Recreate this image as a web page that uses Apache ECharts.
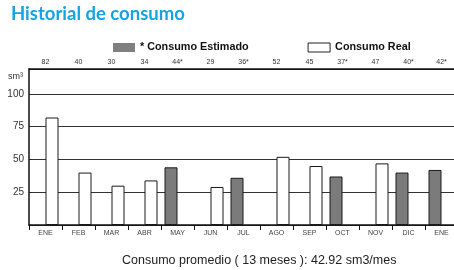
<!DOCTYPE html>
<html>
<head>
<meta charset="utf-8">
<script src="https://cdn.jsdelivr.net/npm/echarts@6/dist/echarts.min.js"></script>
<style>
  html, body { margin: 0; padding: 0; background: #fff; }
  #chart { width: 454px; height: 270px; }
</style>
</head>
<body>
<div id="chart"></div>
<script>
// months of the period, oldest first
const months = ['ENE', 'FEB', 'MAR', 'ABR', 'MAY', 'JUN', 'JUL', 'AGO', 'SEP', 'OCT', 'NOV', 'DIC', 'ENE']
// estimated readings (null = real reading that month)
const estimado = [null, null, null, null, 44, null, 36, null, null, 37, null, 40, 42]
const real = [82, 40, 30, 34, null, 29, null, 52, 45, null, 47, null, null]
const yTicks = [25, 50, 75, 100]

// label row on top: value, with * if estimated
const topLabels = months.map((m, i) => estimado[i] != null ? estimado[i] + '*' : String(real[i]))
const allValues = months.map((m, i) => estimado[i] != null ? estimado[i] : real[i])
const promedio = allValues.reduce((a, b) => a + b, 0) / allValues.length

const chart = echarts.init(document.getElementById('chart'))
chart.setOption({
  animation: false,
  backgroundColor: '#fff',
  textStyle: { fontFamily: 'Liberation Sans, Arial, sans-serif' },
  title: [{
    text: 'Historial de consumo',
    left: 6,
    top: 0,
    textStyle: {
      fontFamily: 'Lato',
      fontWeight: 'bold',
      fontSize: 18.5,
      color: '#14a3e4'
    }
  }, {
    text: 'Consumo promedio ( ' + allValues.length + ' meses ): ' + promedio.toFixed(2) + ' sm3/mes',
    left: 117,
    top: 249,
    textStyle: {
      fontFamily: 'Liberation Sans',
      fontWeight: 'normal',
      fontSize: 12.5,
      color: '#222'
    }
  }],
  legend: {
    left: 113,
    top: 42,
    padding: 0,
    itemWidth: 22,
    itemHeight: 9,
    itemGap: 59,
    textStyle: {
      fontFamily: 'Liberation Sans',
      fontWeight: 'bold',
      fontSize: 10.8,
      color: '#111'
    },
    data: [
      { name: '* Consumo Estimado', icon: 'rect', itemStyle: { color: '#808080', borderWidth: 0 } },
      { name: 'Consumo Real', icon: 'rect', itemStyle: { color: '#fff', borderColor: '#222', borderWidth: 1 } }
    ]
  },
  graphic: [{
    type: 'text',
    left: 8,
    top: 72,
    style: {
      text: 'sm³',
      fontFamily: 'Liberation Sans',
      fontSize: 9,
      fill: '#333'
    }
  }],
  grid: {
    left: 29,
    width: 429,
    top: 69,
    height: 156,
    outerBoundsMode: 'none'
  },
  xAxis: [{
    type: 'category',
    data: months,
    position: 'bottom',
    axisLine: { lineStyle: { color: '#111', width: 1.5 } },
    axisTick: { show: true, length: 5, lineStyle: { color: '#111' } },
    axisLabel: { fontSize: 7, color: '#444', margin: 5 }
  }, {
    type: 'category',
    data: topLabels,
    position: 'top',
    axisLine: { lineStyle: { color: '#111', width: 1.5 } },
    axisTick: { show: false },
    axisLabel: { fontSize: 7, color: '#333', margin: 3 }
  }],
  yAxis: {
    type: 'value',
    min: 0,
    max: 119,
    interval: 25,
    axisLine: { show: true, lineStyle: { color: '#111', width: 1.5 } },
    axisTick: { show: false },
    axisLabel: {
      fontSize: 10,
      color: '#333',
      margin: 5,
      formatter: v => yTicks.includes(v) ? String(v) : ''
    },
    splitLine: { lineStyle: { color: '#333', width: 1 } }
  },
  series: [{
    name: '* Consumo Estimado',
    type: 'bar',
    barWidth: 13,
    barGap: '0%',
    itemStyle: { color: '#7b7b7b', borderColor: '#1a1a1a', borderWidth: 1 },
    data: estimado
  }, {
    name: 'Consumo Real',
    type: 'bar',
    barWidth: 13,
    barGap: '0%',
    itemStyle: { color: '#fff', borderColor: '#1a1a1a', borderWidth: 1 },
    data: real
  }]
})
</script>
</body>
</html>
